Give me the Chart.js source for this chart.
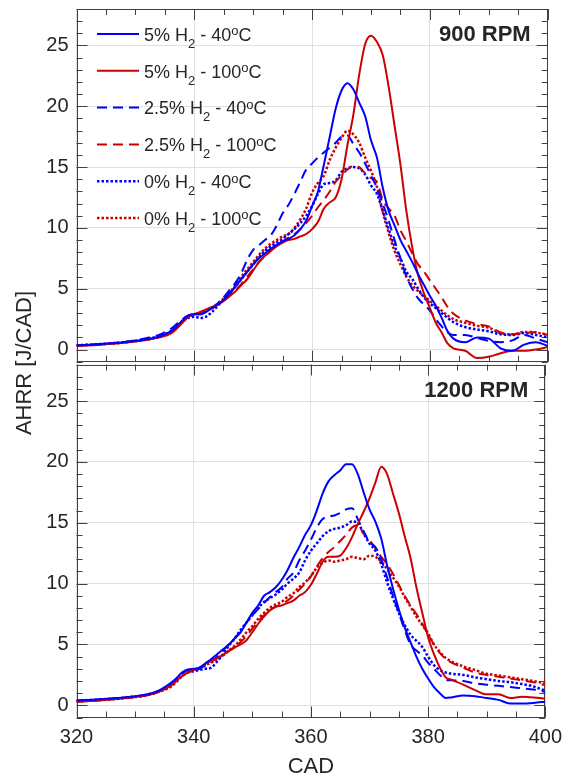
<!DOCTYPE html>
<html>
<head>
<meta charset="utf-8">
<script src="https://cdn.jsdelivr.net/npm/chart.js@4.4.1/dist/chart.umd.min.js"></script>
<style>
  html, body { margin: 0; padding: 0; background: #fff; }
  #wrap { position: relative; width: 570px; height: 776px; }
  #wrap canvas { position: absolute; left: 0; top: 0; }
</style>
</head>
<body>
<div id="wrap">
  <canvas id="topPanel" width="570" height="776"></canvas>
  <canvas id="bottomPanel" width="570" height="776"></canvas>
</div>
<script>
// crank angle (CAD) sample positions shared by every curve
const CAD = [320, 324, 328, 332, 334,
  336, 337, 338, 339, 340, 341, 342, 343, 344, 345,
  346, 347, 348, 349, 350, 351, 352, 353, 354, 355,
  356, 357, 358, 359, 360, 361, 362, 363, 364, 365,
  366, 367, 368, 369, 370, 371, 372, 373, 374, 375,
  376, 377, 378, 379, 380, 381, 382, 383, 384,
  386, 388, 390, 392, 394, 396, 398, 400];

const X_TICKS = [320, 340, 360, 380, 400];
const Y_TICKS = [0, 5, 10, 15, 20, 25];

// legend parts: H2 share and intake temperature
const H2_PCT = ['5%', '5%', '2.5%', '2.5%', '0%', '0%'];
const TEMP = ['40', '100', '40', '100', '40', '100'];

// 900 RPM
const rpm900_h5_40 = [0.35, 0.45, 0.6, 0.85, 1.05,
  1.5, 1.9, 2.4, 2.8, 2.9, 2.9, 3.1, 3.4, 3.7, 4.1,
  4.6, 5.2, 5.8, 6.4, 7.0, 7.5, 7.9, 8.3, 8.6, 8.9,
  9.1, 9.4, 9.9, 10.6, 11.8, 13.0, 15.2, 17.5, 19.8, 21.3,
  21.9, 21.4, 20.3, 19.2, 17.2, 15.8, 13.3, 11.4, 10.2, 9.0,
  8.1, 7.2, 6.2, 5.3, 4.4, 3.6, 2.6, 1.5, 0.9,
  0.6, 1.0, 0.9, 0.1, -0.1, 0.4, 0.6, 0.3];
const rpm900_h5_100 = [0.3, 0.4, 0.55, 0.8, 1.0,
  1.3, 1.7, 2.2, 2.7, 2.9, 3.1, 3.3, 3.5, 3.7, 4.0,
  4.4, 4.8, 5.3, 5.8, 6.5, 7.2, 7.7, 8.1, 8.5, 8.8,
  9.0, 9.1, 9.3, 9.5, 9.9, 10.5, 11.6, 12.1, 12.5, 14.0,
  16.8, 19.3, 22.6, 25.1, 25.8, 25.3, 24.2, 21.6, 18.4, 15.2,
  11.4, 8.4, 6.1, 4.6, 3.4, 2.2, 1.4, 0.5, 0.1,
  -0.1, -0.7, -0.6, -0.3, -0.1, -0.1, 0.0, 0.2];
const rpm900_h25_40 = [0.35, 0.45, 0.62, 0.95, 1.2,
  1.7, 2.1, 2.5, 2.8, 2.9, 2.9, 3.1, 3.4, 3.8, 4.3,
  4.9, 5.5, 6.3, 7.4, 8.2, 8.6, 9.0, 9.4, 10.2, 11.2,
  11.9, 12.8, 13.8, 14.8, 15.3, 15.8, 16.2, 16.6, 17.0, 17.5,
  17.6, 16.9, 16.2, 15.3, 14.3, 13.3, 12.0, 10.6, 9.0, 7.5,
  6.0, 5.0, 4.2, 3.7, 3.2, 2.5, 1.9, 1.4, 1.2,
  1.2, 0.95, 0.7, 0.6, 0.75, 1.2, 0.9, 0.6];
const rpm900_h25_100 = [0.32, 0.42, 0.58, 0.82, 1.02,
  1.4, 1.8, 2.3, 2.7, 2.9, 3.0, 3.2, 3.4, 3.7, 4.0,
  4.4, 4.9, 5.4, 6.0, 6.6, 7.2, 7.7, 8.2, 8.6, 8.9,
  9.2, 9.5, 9.9, 10.4, 11.0, 11.7, 12.3, 13.0, 13.8, 14.3,
  14.8, 15.1, 15.0, 14.5, 14.1, 13.8, 12.3, 11.6, 11.0, 9.8,
  8.9, 7.9, 7.0, 6.4, 5.7, 5.0, 4.3, 3.5, 2.95,
  2.4, 2.1, 1.9, 1.4, 1.25, 1.35, 1.45, 1.2];
const rpm900_h0_40 = [0.35, 0.45, 0.6, 0.88, 1.1,
  1.5, 1.9, 2.3, 2.6, 2.7, 2.6, 2.7, 3.1, 3.6, 4.1,
  4.6, 5.2, 5.8, 6.4, 7.0, 7.6, 8.1, 8.5, 8.8, 9.1,
  9.5, 9.9, 10.4, 11.0, 11.8, 12.8, 13.6, 13.7, 13.9, 14.6,
  14.9, 15.0, 14.9, 14.4, 13.5, 12.8, 11.4, 9.9, 8.5, 7.5,
  6.4, 5.8, 5.0, 4.3, 3.8, 3.4, 3.0, 2.6, 2.25,
  1.85, 1.65, 1.5, 1.25, 1.2, 1.35, 1.2, 1.0];
const rpm900_h0_100 = [0.32, 0.42, 0.58, 0.82, 1.02,
  1.4, 1.8, 2.3, 2.7, 2.9, 3.0, 3.2, 3.4, 3.8, 4.2,
  4.7, 5.3, 6.0, 6.6, 7.2, 7.8, 8.3, 8.7, 9.0, 9.3,
  9.5, 10.0, 10.7, 11.6, 12.9, 13.7, 14.3, 15.6, 16.6, 17.4,
  18.0, 17.7, 17.0, 15.8, 14.7, 13.4, 11.3, 9.6, 8.1, 7.0,
  6.0, 5.3, 4.8, 4.4, 4.0, 3.6, 3.2, 2.8, 2.5,
  2.2, 1.95, 1.8, 1.35, 1.25, 1.45, 1.4, 1.2];

// 1200 RPM
const rpm1200_h5_40 = [0.4, 0.5, 0.65, 0.9, 1.2,
  1.8, 2.2, 2.7, 2.95, 3.0, 3.1, 3.45, 3.8, 4.2, 4.6,
  5.0, 5.5, 6.0, 6.8, 7.6, 8.2, 9.0, 9.3, 9.7, 10.3,
  11.1, 12.1, 13.0, 14.0, 14.8, 16.0, 17.4, 18.4, 18.9, 19.3,
  19.8, 19.8, 19.0, 17.5, 16.1, 15.1, 13.7, 11.5, 9.6, 7.9,
  6.4, 5.2, 4.0, 3.0, 2.2, 1.5, 1.0, 0.6, 0.65,
  0.8, 0.75, 0.6, 0.45, 0.15, 0.15, 0.2, 0.3];
const rpm1200_h5_100 = [0.3, 0.42, 0.58, 0.82, 1.1,
  1.6, 2.0, 2.4, 2.7, 2.9, 3.1, 3.4, 3.65, 3.9, 4.15,
  4.45, 4.75, 5.0, 5.35, 6.0, 6.7, 7.3, 7.8, 8.1, 8.2,
  8.4, 8.6, 9.0, 9.3, 9.9, 10.8, 11.8, 12.2, 12.2, 12.3,
  12.9, 13.8, 14.9, 15.9, 17.0, 18.3, 19.6, 19.0, 17.4, 15.8,
  13.9, 12.1, 9.7, 7.6, 5.6, 4.2, 3.1, 2.3, 2.1,
  1.7, 1.25, 0.9, 0.9, 0.6, 0.7, 0.65, 0.55];
const rpm1200_h25_40 = [0.38, 0.48, 0.62, 0.88, 1.15,
  1.7, 2.1, 2.6, 2.9, 2.9, 3.0, 3.3, 3.6, 4.0, 4.5,
  5.0, 5.5, 6.1, 6.8, 7.4, 7.9, 8.4, 8.9, 9.3, 9.7,
  10.4, 10.9, 11.9, 12.7, 13.6, 14.6, 15.3, 15.5, 15.6, 15.8,
  16.1, 16.2, 15.3, 14.3, 13.4, 13.0, 12.0, 10.5, 9.0, 7.6,
  6.2, 5.0, 4.5, 4.1, 3.5, 3.0, 2.5, 2.1, 2.05,
  2.0, 1.8, 1.7, 1.6, 1.5, 1.4, 1.3, 1.1];
const rpm1200_h25_100 = [0.3, 0.42, 0.58, 0.82, 1.1,
  1.6, 2.0, 2.4, 2.7, 2.9, 3.1, 3.35, 3.6, 3.9, 4.2,
  4.5, 4.8, 5.2, 5.7, 6.3, 6.9, 7.4, 7.8, 8.1, 8.3,
  8.6, 9.0, 9.5, 10.0, 10.6, 11.4, 12.1, 12.6, 13.0, 13.5,
  14.0, 14.6, 14.8, 14.1, 13.6, 12.9, 12.2, 11.6, 10.8, 9.9,
  9.0, 8.2, 7.5, 6.7, 5.8, 5.0, 4.3, 3.8, 3.5,
  3.1, 2.7, 2.5, 2.35, 2.2, 2.05, 1.9, 1.65];
const rpm1200_h0_40 = [0.38, 0.48, 0.62, 0.88, 1.15,
  1.6, 2.0, 2.4, 2.7, 2.8, 2.9, 3.0, 3.1, 3.6, 4.2,
  4.9, 5.5, 6.2, 6.8, 7.4, 8.0, 8.5, 8.8, 9.1, 9.5,
  10.0, 10.4, 10.9, 11.9, 12.7, 13.3, 13.9, 14.3, 14.5, 14.6,
  14.8, 15.1, 15.0, 14.1, 13.3, 12.7, 11.6, 10.1, 8.8, 7.6,
  6.6, 5.8, 5.3, 4.8, 4.0, 3.3, 2.9, 2.7, 2.6,
  2.5, 2.3, 2.15, 2.0, 1.9, 1.75, 1.55, 1.2];
const rpm1200_h0_100 = [0.3, 0.42, 0.58, 0.82, 1.1,
  1.5, 1.9, 2.4, 2.7, 2.9, 3.0, 3.3, 3.5, 3.8, 4.1,
  4.5, 4.9, 5.4, 6.0, 6.5, 7.1, 7.6, 8.0, 8.3, 8.5,
  8.9, 9.2, 9.7, 10.1, 10.6, 11.3, 11.7, 11.9, 11.8, 11.9,
  12.0, 12.2, 12.1, 12.0, 12.3, 12.2, 11.8, 11.2, 10.5, 9.8,
  8.9, 8.1, 7.3, 6.6, 5.9, 5.0, 4.4, 3.9, 3.6,
  3.2, 2.9, 2.6, 2.45, 2.3, 2.15, 2.0, 1.8];

const BLUE = '#0000ff';
const RED = '#cc0000';
const TEXT = '#262626';
const AXIS = '#404040';
const GRID = '#e0e0e0';
const FONT = '"Liberation Sans", Arial, sans-serif';

// line style per series: solid, dashed, dotted (blue = 40 C, red = 100 C)
const STYLES = [
  { color: BLUE, dash: [], width: 2 },
  { color: RED, dash: [], width: 2 },
  { color: BLUE, dash: [10, 6], width: 2 },
  { color: RED, dash: [10, 6], width: 2 },
  { color: BLUE, dash: [2.5, 2], width: 2.5 },
  { color: RED, dash: [2.5, 2], width: 2.5 }
];

function buildDatasets(series) {
  return series.map((vals, i) => ({
    label: H2_PCT[i] + ' H2 - ' + TEMP[i] + '°C',
    data: vals.map((v, k) => ({ x: CAD[k], y: v })),
    borderColor: STYLES[i].color,
    borderDash: STYLES[i].dash,
    borderWidth: STYLES[i].width,
    borderCapStyle: 'butt',
    pointRadius: 0,
    cubicInterpolationMode: 'monotone',
    fill: false
  }));
}

// MATLAB-like box with inward ticks on all four sides
const axesBox = {
  id: 'axesBox',
  beforeDatasetsDraw(chart) {
    const { ctx, chartArea: a, scales: { x, y } } = chart;
    ctx.save();
    ctx.strokeStyle = AXIS;
    ctx.lineWidth = 1;
    ctx.beginPath();
    for (let v = x.min; v <= x.max; v += 5) {
      const px = Math.round(x.getPixelForValue(v)) + 0.5;
      const len = v % 20 === 0 ? 11 : 6;
      ctx.moveTo(px, a.bottom); ctx.lineTo(px, a.bottom - len);
      ctx.moveTo(px, a.top); ctx.lineTo(px, a.top + len);
    }
    for (let v = y.min; v <= y.max; v += 1) {
      const py = Math.round(y.getPixelForValue(v)) + 0.5;
      const len = v % 5 === 0 ? 11 : 6;
      ctx.moveTo(a.left, py); ctx.lineTo(a.left + len, py);
      ctx.moveTo(a.right, py); ctx.lineTo(a.right - len, py);
    }
    ctx.stroke();
    ctx.strokeRect(Math.round(a.left) + 0.5, Math.round(a.top) + 0.5,
      Math.round(a.right) - Math.round(a.left) - 1, Math.round(a.bottom) - Math.round(a.top) - 1);
    ctx.restore();
  }
};

// panel texts: rpm tag, legend with sub/superscripts, shared y title
const panelText = {
  id: 'panelText',
  afterDraw(chart, args, opts) {
    const { ctx, chartArea: a } = chart;
    ctx.save();
    ctx.fillStyle = TEXT;
    ctx.font = 'bold 22px ' + FONT;
    ctx.textAlign = 'right';
    ctx.textBaseline = 'alphabetic';
    ctx.fillText(opts.rpm, a.right - 17, a.top + 32);

    if (opts.legend) {
      chart.data.datasets.forEach((ds, i) => {
        const yc = a.top + 25 + i * 36.8;
        ctx.save();
        ctx.strokeStyle = ds.borderColor;
        ctx.lineWidth = ds.borderWidth;
        ctx.setLineDash(ds.borderDash);
        ctx.beginPath();
        ctx.moveTo(97, yc); ctx.lineTo(139, yc);
        ctx.stroke();
        ctx.restore();

        const base = yc + 6.7;
        let x = 144;
        ctx.textAlign = 'left';
        const part = (txt, size, dy) => {
          ctx.font = size + 'px ' + FONT;
          ctx.fillText(txt, x, base + dy);
          x += ctx.measureText(txt).width;
        };
        part(H2_PCT[i] + ' H', 18, 0);
        part('2', 13, 7);
        part(' - ' + TEMP[i], 18, 0);
        part('o', 13, -5.3);
        part('C', 18, 0);
      });
    }

    if (opts.yTitle) {
      ctx.font = '22px ' + FONT;
      ctx.textAlign = 'center';
      ctx.textBaseline = 'middle';
      ctx.translate(25, 363);
      ctx.rotate(-Math.PI / 2);
      ctx.fillText('AHRR [J/CAD]', 0, 0);
    }
    ctx.restore();
  }
};

function makePanel(id, series, rpm, isBottom) {
  return new Chart(document.getElementById(id), {
    type: 'line',
    data: { datasets: buildDatasets(series) },
    plugins: [axesBox, panelText],
    options: {
      responsive: false,
      devicePixelRatio: 1,
      animation: false,
      events: [],
      layout: {
        padding: isBottom
          ? { top: 364.5, right: 22.3, bottom: 0, left: 0 }
          : { top: 9, right: 22.3, bottom: 414.3, left: 0 }
      },
      scales: {
        x: {
          type: 'linear',
          min: 320,
          max: 400,
          afterBuildTicks: s => { s.ticks = X_TICKS.map(v => ({ value: v })); },
          afterFit: s => { s.height = isBottom ? 58.5 : 0; },
          ticks: {
            display: isBottom,
            color: TEXT,
            font: { family: FONT, size: 20 },
            padding: 8,
            maxRotation: 0,
            autoSkip: false
          },
          grid: { color: GRID, drawTicks: false },
          border: { display: false },
          title: {
            display: isBottom,
            text: 'CAD',
            color: TEXT,
            font: { family: FONT, size: 22 },
            padding: { top: 0, bottom: -4 }
          }
        },
        y: {
          min: -1,
          max: 28,
          afterBuildTicks: s => { s.ticks = Y_TICKS.map(v => ({ value: v })); },
          afterFit: s => {
            s.width = 76.5;
            s.paddingTop = 0;
            s.paddingBottom = 0;
          },
          ticks: {
            color: TEXT,
            font: { family: FONT, size: 20 },
            padding: 8
          },
          grid: { color: GRID, drawTicks: false },
          border: { display: false }
        }
      },
      plugins: {
        legend: { display: false },
        tooltip: { enabled: false },
        panelText: { rpm: rpm, legend: !isBottom, yTitle: isBottom }
      }
    }
  });
}

makePanel('topPanel',
  [rpm900_h5_40, rpm900_h5_100, rpm900_h25_40, rpm900_h25_100, rpm900_h0_40, rpm900_h0_100],
  '900 RPM', false);
makePanel('bottomPanel',
  [rpm1200_h5_40, rpm1200_h5_100, rpm1200_h25_40, rpm1200_h25_100, rpm1200_h0_40, rpm1200_h0_100],
  '1200 RPM', true);
</script>
</body>
</html>
